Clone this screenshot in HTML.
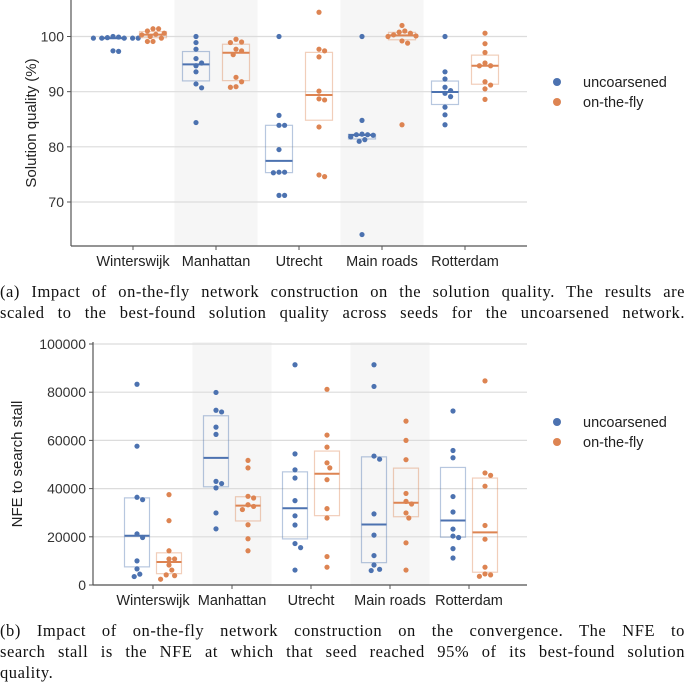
<!DOCTYPE html>
<html><head><meta charset="utf-8"><style>
body{margin:0;background:#fff;width:685px;height:685px;overflow:hidden;position:relative}
svg{position:absolute;left:0;top:0}
.cap{position:absolute;left:0;width:685px;font-family:"Liberation Serif",serif;font-size:16.5px;letter-spacing:0.55px;line-height:21px;color:#111}
.cap div{text-align:justify;text-align-last:justify;white-space:nowrap}
.cap div.last{text-align-last:left}
</style></head><body>
<svg id="chart" width="685" height="685" font-family="Liberation Sans, sans-serif"></svg>
<div class="cap" style="top:281px">
<div>(a) Impact of on-the-fly network construction on the solution quality. The results are</div>
<div>scaled to the best-found solution quality across seeds for the uncoarsened network.</div>
</div>
<div class="cap" style="top:620px">
<div>(b) Impact of on-the-fly network construction on the convergence. The NFE to</div>
<div>search stall is the NFE at which that seed reached 95% of its best-found solution</div>
<div class="last">quality.</div>
</div>
<script>
const categories=["Winterswijk","Manhattan","Utrecht","Main roads","Rotterdam"];
const seriesNames=["uncoarsened","on-the-fly"];
const qualUnc=[[100,99.7,99.7,99.7,99.7,99.7,99.8,99.9,97.4,97.3],[100,98.9,97.7,96.0,95.2,94.7,93.6,91.4,90.7,84.4],[100,85.7,83.9,83.9,79.5,75.4,75.4,75.3,71.2,71.2],[100,84.8,82.3,82.2,82.2,82.1,81.8,81.3,81.0,64.1],[100,93.6,92.3,90.8,90.2,89.7,89.1,87.2,85.8,84.0]];
const qualOtf=[[101.4,101.4,101.0,100.6,100.4,100.3,100.0,99.7,99.1,99.1],[99.5,99.0,98.9,97.7,97.4,96.7,92.6,91.8,90.9,90.8],[104.4,97.7,97.4,96.3,90.1,88.7,88.5,83.6,74.9,74.6],[102.0,101.0,100.8,100.6,100.3,100.1,100,99.2,98.8,84.0],[100.6,98.7,97.1,95.2,94.7,94.7,91.8,91.2,90.5,88.6]];
const nfeUnc=[[83300,57600,36400,35400,21200,19700,10000,6700,4500,3500],[79900,72500,71800,65500,62500,43000,42100,40300,29900,23300],[91400,54400,47800,44400,35000,28700,24900,17200,15500,6200],[91400,82400,53500,52200,29500,20700,12200,8300,6500,6000],[72200,55800,52800,36700,30300,23200,20300,19700,15100,11200]];
const nfeOtf=[[37500,26700,14200,10800,10800,8300,6200,4200,3900,2400],[51700,48600,36800,36100,33300,32600,31300,25000,19200,14200],[81200,62200,57200,50700,48600,43700,31700,27800,11800,7400],[68000,60000,52000,38000,34700,33600,29900,27800,17500,6200],[84700,46500,45500,41000,24700,19000,7400,4600,4200,3600]];
const qualTicks=[70,80,90,100];
const nfeTicks=[0,20000,40000,60000,80000,100000];

const NS="http://www.w3.org/2000/svg";
const svg=document.getElementById('chart');
const colors=["#4c72b0","#dd8452"];
function mk(tag,attrs,parent){const e=document.createElementNS(NS,tag);for(const k in attrs)e.setAttribute(k,attrs[k]);(parent||svg).appendChild(e);return e;}
function q(arr,p){const s=[...arr].sort((a,b)=>a-b);const i=(s.length-1)*p;const lo=Math.floor(i),hi=Math.ceil(i);return s[lo]+(s[hi]-s[lo])*(i-lo);}

function drawChart(cfg){
  const g=mk('g',{});
  
  
  const x=i=>cfg.x0+i*cfg.step;
  const y=v=>cfg.yA+(v-cfg.vA)*(cfg.yB-cfg.yA)/(cfg.vB-cfg.vA);
  [1,3].forEach(i=>{const r=mk('rect',{x:x(i)-cfg.step/2,y:cfg.top,width:cfg.step,height:cfg.bottom-cfg.top,fill:'#f6f6f6'},g);
    
    });
  cfg.ticks.forEach(t=>{const yy=y(t);
    const l=mk('line',{x1:cfg.left,x2:cfg.right,y1:yy,y2:yy,stroke:'#dcdcdc','stroke-width':1.2},g);
    
    
    mk('line',{x1:cfg.left-4,x2:cfg.left,y1:yy,y2:yy,stroke:'#555','stroke-width':1},g);
    const tx=mk('text',{x:cfg.left-7,y:yy+5,'text-anchor':'end','font-size':14,fill:'#333'},g);
    tx.textContent=cfg.fmt(t);
    
    
  });
  [cfg.unc,cfg.otf].forEach((series,si)=>{
    series.forEach((vals,ci)=>{
      const cx=x(ci)+(si===0?-cfg.off:cfg.off);
      const q1=q(vals,0.25),q3=q(vals,0.75),md=q(vals,0.5);
      const bx=mk('rect',{x:cx-cfg.bw/2,y:y(q3),width:cfg.bw,height:Math.max(1,y(q1)-y(q3)),fill:'none',stroke:colors[si],'stroke-opacity':0.4,'stroke-width':1.2},g);
      
      
      const ml=mk('line',{x1:cx-cfg.bw/2,x2:cx+cfg.bw/2,y1:y(md),y2:y(md),stroke:colors[si],'stroke-width':2},g);
      
      
      const placed=[];const r=2.6,d=2*r+0.4;
      [...vals].sort((a,b)=>b-a).forEach(v=>{
        const py=y(v);let best=0;
        for(let k=0;k<40;k++){const cands=k===0?[0]:[k*0.5*d,-k*0.5*d];
          let ok=null;for(const o of cands){if(placed.every(p=>Math.hypot(p[0]-o,p[1]-py)>=d)){ok=o;break;}}
          if(ok!==null){best=ok;break;}}
        placed.push([best,py]);
        const c=mk('circle',{cx:cx+best,cy:py,r:r,fill:colors[si]},g);
        
        
      });
    });
  });
  mk('line',{x1:cfg.left,x2:cfg.left,y1:cfg.top,y2:cfg.bottom,stroke:'#555','stroke-width':1.2},g);
  mk('line',{x1:cfg.left,x2:cfg.right,y1:cfg.bottom,y2:cfg.bottom,stroke:'#555','stroke-width':1.2},g);
  categories.forEach((c,i)=>{
    mk('line',{x1:x(i),x2:x(i),y1:cfg.bottom,y2:cfg.bottom+4,stroke:'#555','stroke-width':1},g);
    const t=mk('text',{x:x(i),y:cfg.bottom+20,'text-anchor':'middle','font-size':14.5,fill:'#222'},g);
    t.textContent=c;
    
    
  });
  const at=mk('text',{transform:`translate(${cfg.titleX},${cfg.titleY}) rotate(-90)`,'text-anchor':'middle','font-size':15,fill:'#222'},g);
  at.textContent=cfg.title;
  
  
  seriesNames.forEach((n,i)=>{
    const c=mk('circle',{cx:557,cy:cfg.legY+i*20,r:4,fill:colors[i]},g);
    
    
    const t=mk('text',{x:583,y:cfg.legY+i*20+5,'font-size':14.5,fill:'#222'},g);
    t.textContent=n;
    
    
  });
}
drawChart({name:'quality-chart',unc:qualUnc,otf:qualOtf,ticks:qualTicks,fmt:t=>String(t),
  left:71,right:527,top:0,bottom:246,x0:133,step:83,off:20,bw:27,
  vA:100,yA:36.5,vB:70,yB:202,title:'Solution quality (%)',titleX:36,titleY:123,legY:82});
drawChart({name:'nfe-chart',unc:nfeUnc,otf:nfeOtf,ticks:nfeTicks,fmt:t=>String(t),
  left:93,right:527,top:342,bottom:585,x0:153,step:79,off:16,bw:25,
  vA:0,yA:585,vB:100000,yB:344,title:'NFE to search stall',titleX:22,titleY:464,legY:422});
</script>
</body></html>
